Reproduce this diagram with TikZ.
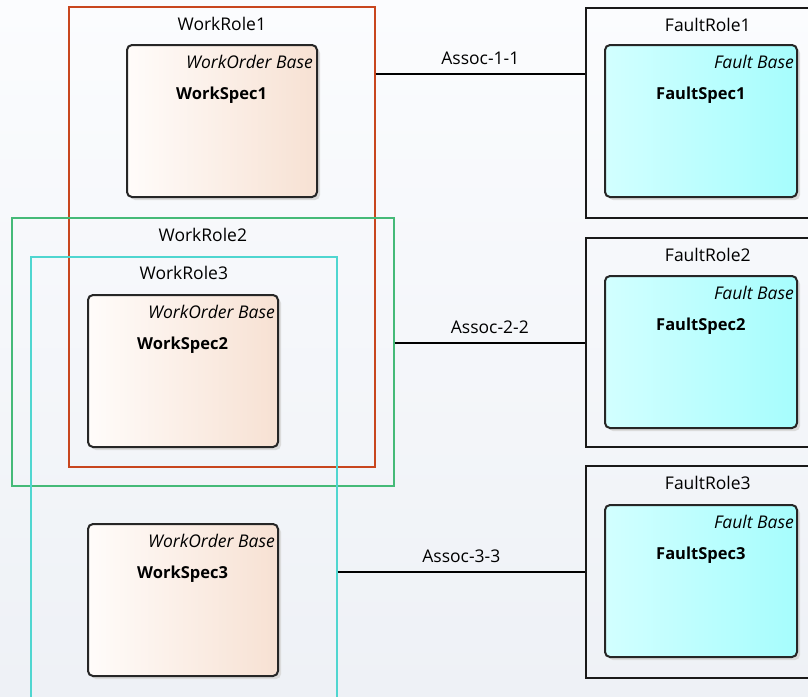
\documentclass[tikz,border=0pt]{standalone}
\usepackage{fontspec}
\setmainfont{Open Sans}
\usetikzlibrary{positioning,shadows,calc}

\definecolor{redrole}{HTML}{C8461E}
\definecolor{greenrole}{HTML}{45BA78}
\definecolor{cyanrole}{HTML}{4FD6D0}
\definecolor{workl}{HTML}{FFFCFA}
\definecolor{workr}{HTML}{F7E1D3}
\definecolor{faultl}{HTML}{D2FFFF}
\definecolor{faultr}{HTML}{A6FDFD}
\definecolor{bgtop}{HTML}{FBFCFE}
\definecolor{bgbot}{HTML}{EEF1F6}

\tikzset{
  role/.style={draw, line width=1.7pt, anchor=north west, inner sep=0pt},
  rolename/.style={anchor=base, inner sep=0pt, font=\fontsize{17.5}{20}\selectfont},
  spec/.style={draw=black!85, line width=2pt, rounded corners=5pt, anchor=north west,
    minimum width=190pt, minimum height=152pt, inner sep=0pt,
    drop shadow={shadow xshift=3pt, shadow yshift=-3pt, fill=black!14, opacity=1}},
  workspec/.style={spec, left color=workl, right color=workr},
  faultspec/.style={spec, minimum width=192pt, left color=faultl, right color=faultr},
  basename/.style={anchor=base east, inner sep=0pt, font=\fontsize{17.5}{20}\selectfont\itshape},
  specname/.style={anchor=base west, inner sep=0pt, font=\fontsize{16.5}{20}\selectfont\bfseries},
  assoc/.style={line width=1.6pt},
  assocname/.style={above=10pt, inner sep=0pt, anchor=base, font=\fontsize{17.5}{20}\selectfont}
}

\begin{document}
\begin{tikzpicture}[x=1pt,y=-1pt]
  % background
  \shade[top color=bgtop, bottom color=bgbot] (0,0) rectangle (808,696);
  \clip (0,0) rectangle (808,696);

  % work side
  \node[role, draw=redrole, minimum width=306pt, minimum height=460pt] (wr1) at (68,6) {};
  \node[rolename] (wr1t) at ($(wr1.north)+(0,24)$) {WorkRole1};
  \node[role, draw=greenrole, minimum width=382pt, minimum height=268pt] (wr2) at (11,217) {};
  \node[rolename] (wr2t) at ($(wr2.north)+(0,24)$) {WorkRole2};
  \node[role, draw=cyanrole, minimum width=306pt, minimum height=460pt] (wr3) at (30,256) {};
  \node[rolename] (wr3t) at ($(wr3.north)+(0,23)$) {WorkRole3};

  \node[workspec] (ws1) at (126,44) {};
  \node[basename] (ws1b) at ($(ws1.north east)+(-5,24)$) {WorkOrder Base};
  \node[specname] (ws1n) at ($(ws1.north west)+(50,55)$) {WorkSpec1};
  \node[workspec] (ws2) at (87,294) {};
  \node[basename] (ws2b) at ($(ws2.north east)+(-4,24)$) {WorkOrder Base};
  \node[specname] (ws2n) at ($(ws2.north west)+(50,55)$) {WorkSpec2};
  \node[workspec] (ws3) at (87,523) {};
  \node[basename] (ws3b) at ($(ws3.north east)+(-4,24)$) {WorkOrder Base};
  \node[specname] (ws3n) at ($(ws3.north west)+(50,55)$) {WorkSpec3};

  % fault side
  \node[role, draw=black!90, minimum width=244pt, minimum height=210pt] (fr1) at (585,7) {};
  \node[rolename] (fr1t) at ($(fr1.north)+(0,24)$) {FaultRole1};
  \node[role, draw=black!90, minimum width=244pt, minimum height=209pt] (fr2) at (585,237) {};
  \node[rolename] (fr2t) at ($(fr2.north)+(0,24)$) {FaultRole2};
  \node[role, draw=black!90, minimum width=244pt, minimum height=212pt] (fr3) at (585,465) {};
  \node[rolename] (fr3t) at ($(fr3.north)+(0,24)$) {FaultRole3};

  \node[faultspec] (fs1) at (604,44) {};
  \node[basename] (fs1b) at ($(fs1.north east)+(-4,24)$) {Fault Base};
  \node[specname] (fs1n) at ($(fs1.north west)+(52,55)$) {FaultSpec1};
  \node[faultspec] (fs2) at (604,275) {};
  \node[basename] (fs2b) at ($(fs2.north east)+(-4,24)$) {Fault Base};
  \node[specname] (fs2n) at ($(fs2.north west)+(52,55)$) {FaultSpec2};
  \node[faultspec] (fs3) at (604,504) {};
  \node[basename] (fs3b) at ($(fs3.north east)+(-4,24)$) {Fault Base};
  \node[specname] (fs3n) at ($(fs3.north west)+(52,55)$) {FaultSpec3};

  % associations
  \coordinate (a1) at (480,74);
  \coordinate (a2) at (490,343);
  \coordinate (a3) at (460,572);
  \draw[assoc] (wr1.east |- a1) -- node[assocname] (a1t) {Assoc-1-1} (fr1.west |- a1);
  \draw[assoc] (wr2.east |- a2) -- node[assocname] (a2t) {Assoc-2-2} (fr2.west |- a2);
  \draw[assoc] (wr3.east |- a3) -- node[assocname] (a3t) {Assoc-3-3} (fr3.west |- a3);
\end{tikzpicture}
\end{document}
